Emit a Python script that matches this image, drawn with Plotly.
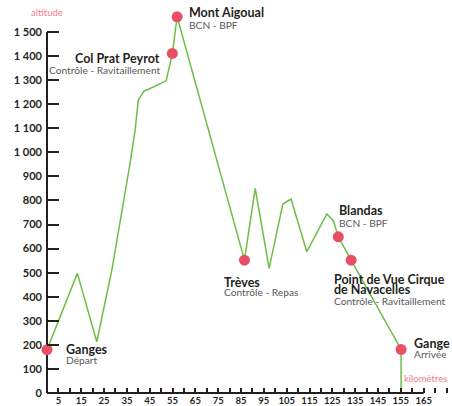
import plotly.graph_objects as go

# elevation profile (km, m)
profile_km = [0, 13.3, 21.8, 28.4, 36.4, 38.6, 40.0, 42.5, 44.5, 52.2, 54.9, 57.0,
              86.5, 91.2, 97.3, 103.3, 106.9, 113.8, 122.6, 125.4, 127.6, 133.2, 155.1, 155.1]
profile_alt = [180, 497, 213, 511, 955, 1093, 1217, 1255, 1262, 1297, 1411, 1563,
               552, 850, 518, 785, 806, 587, 744, 716, 649, 552, 181, 0]

# stations on the route
station_km = [0, 54.9, 57.0, 86.5, 127.6, 133.2, 155.1]
station_alt = [180, 1411, 1563, 552, 649, 552, 181]
station_name = [["Ganges"], ["Col Prat Peyrot"], ["Mont Aigoual"], ["Trèves"], ["Blandas"],
                ["Point de Vue Cirque", "de Navacelles"], ["Gange"]]
station_sub = ["Départ", "Contrôle - Ravitaillement", "BCN - BPF", "Contrôle - Repas",
               "BCN - BPF", "Contrôle - Ravitaillement", "Arrivée"]

# label placement relative to the marker (px): xshift, title yshift, subtitle yshift, anchor
label_pos = [
    (17, 0, -10, "left"),
    (-10, -5, -17, "right"),
    (10, 4, -8, "left"),
    (-22, -22, -32, "left"),
    (-1, 26, 14, "left"),
    (-19, -19, -41, "left"),
    (11, 6, -5, "left"),
]

y_ticks = list(range(0, 1600, 100))
y_labels = ["{:,}".format(v).replace(",", " ") for v in y_ticks]
x_ticks = list(range(5, 170, 10))

GREEN = "#6dbe45"
PINK = "#e94f64"
DARK = "#231f20"
GREY = "#58595b"
FONT = "Lato"

fig = go.Figure()
fig.add_trace(go.Scatter(
    x=profile_km, y=profile_alt, mode="lines",
    line=dict(color=GREEN, width=1.5), cliponaxis=False, hoverinfo="skip",
))
fig.add_trace(go.Scatter(
    x=station_km, y=station_alt, mode="markers",
    marker=dict(color=PINK, size=11), cliponaxis=False, hoverinfo="skip",
))

for km, alt, lines, sub, (dx, dy1, dy2, anchor) in zip(
        station_km, station_alt, station_name, station_sub, label_pos):
    for i, line in enumerate(lines):
        fig.add_annotation(
            x=km, y=alt, text="<b>%s</b>" % line, showarrow=False,
            xanchor=anchor, yanchor="middle", xshift=dx, yshift=dy1 - 10 * i,
            font=dict(family=FONT, size=12.5, color=DARK),
        )
    fig.add_annotation(
        x=km, y=alt, text=sub, showarrow=False,
        xanchor=anchor, yanchor="middle", xshift=dx, yshift=dy2,
        font=dict(family=FONT, size=10.2, color=GREY),
    )

fig.add_annotation(x=0, y=1580, text="altitude", showarrow=False, xanchor="center",
                   font=dict(family=FONT, size=9.5, color="#f27b8c"))
fig.add_annotation(x=155.5, y=60, text="kilomètres", showarrow=False, xanchor="left",
                   font=dict(family=FONT, size=9.5, color="#f27b8c"))

# axis lines (stop at 1500 m and 165 km)
fig.add_shape(type="line", xref="paper", yref="y", x0=0, x1=0, y0=0, y1=1500,
              line=dict(color=DARK, width=2), layer="below")
fig.add_shape(type="line", xref="x", yref="paper", x0=0, x1=165, y0=0, y1=0,
              line=dict(color=DARK, width=2), layer="below")

fig.update_layout(
    width=452, height=406,
    margin=dict(l=47, r=0, t=0, b=13),
    paper_bgcolor="white", plot_bgcolor="white",
    showlegend=False,
    xaxis=dict(
        range=[0, 177.4], showgrid=False, zeroline=False, showline=False,
        tickmode="array", tickvals=x_ticks, ticks="inside", ticklen=5,
        tickwidth=1.5, tickcolor=DARK,
        minor=dict(ticks="inside", dtick=5, tick0=0, ticklen=5, tickwidth=1.5,
                   tickcolor=DARK, showgrid=False),
        tickfont=dict(family=FONT, size=9.5, color=DARK, weight="bold"),
    ),
    yaxis=dict(
        range=[0, 1632.9], showgrid=False, zeroline=False, showline=False,
        tickmode="array", tickvals=y_ticks, ticktext=y_labels,
        ticks="inside", ticklen=12, tickwidth=1.5, tickcolor=DARK,
        ticklabelstandoff=4,
        tickfont=dict(family=FONT, size=11, color=DARK, weight="bold"),
    ),
)

# drop the default page margin so the figure sits at the window corner
fig.write_html("out.html", config={"displayModeBar": False},
               post_script="document.body.style.margin='0';")
